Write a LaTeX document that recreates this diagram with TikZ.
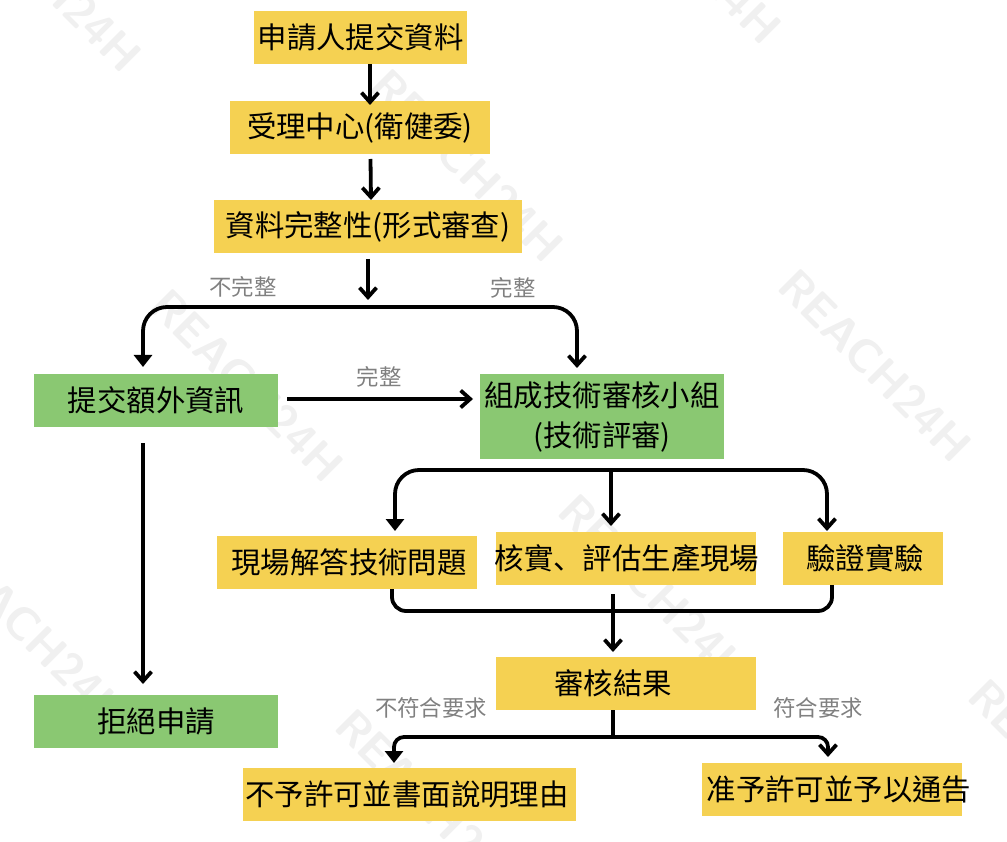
\documentclass[tikz,border=0pt]{standalone}
\usepackage{fontspec}
\setmainfont{Noto Sans CJK TC}
\newfontfamily\jpfont{Noto Sans CJK JP}
\usetikzlibrary{arrows.meta}
\definecolor{yel}{HTML}{F5D152}
\definecolor{grn}{HTML}{8AC872}
\definecolor{lab}{HTML}{808080}
\definecolor{wm}{HTML}{F0F0F0}
\tikzset{
  x=1pt,y=-1pt,
  boxy/.style={fill=yel,inner sep=0pt,outer sep=0pt,align=center,font=\fontsize{29.4}{40}\selectfont},
  boxg/.style={boxy,fill=grn},
  lbl/.style={text=lab,inner sep=0pt,font=\fontsize{22.4}{26}\selectfont},
  wmk/.style={text=wm,inner sep=0pt,rotate=-45,font=\fontfamily{lmss}\sffamily\bfseries\fontsize{46}{50}\selectfont},
  arr/.style={line width=3.8pt,-{Straight Barb[length=9.5pt,width=17pt,line width=3.8pt]}},
  arf/.style={line width=3.8pt,-{Triangle[length=12pt,width=18pt]}},
  lin/.style={line width=3.8pt}
}
\newcommand{\bx}[7]{\node[#1,minimum width=#5-#4,minimum height=#7-#6] (#2) at ({(#4+#5)/2},{(#6+#7)/2}) {#3};}
\newcommand{\tx}[2]{\makebox[0pt][c]{\hspace*{#1}\raisebox{-1pt}{#2}}}
\begin{document}
\begin{tikzpicture}
\useasboundingbox (0,0) rectangle (1007,842);
% watermarks
\node[wmk] (w1) at (45,-25) {REACH24H};
\node[wmk] (w2) at (467,165) {REACH24H};
\node[wmk] (w3) at (875,365) {REACH24H};
\node[wmk] (w4) at (247,385) {REACH24H};
\node[wmk] (w5) at (655,590) {REACH24H};
\node[wmk] (w6) at (33,633) {REACH24H};
\node[wmk] (w7) at (432,805) {REACH24H};
\node[wmk] (w8) at (685,-53) {REACH24H};
\node[wmk] (w9) at (1065,775) {REACH24H};
% boxes
\bx{boxy}{a}{\tx{0pt}{申請人提交資料}}{254}{467}{11}{64}
\bx{boxy}{b}{\tx{0pt}{受理中心(衛健委)}}{230}{490}{101}{154}
\bx{boxy}{c}{\tx{0pt}{資料完整性(形式審查)}}{214}{522}{200}{253}
\bx{boxg}{d}{\tx{0pt}{提交額外資訊}}{34}{278}{374}{427}
\bx{boxg}{e}{\tx{0pt}{組成技術審核小組}\\\tx{0pt}{(技術評審)}}{480}{724}{374}{459}
\bx{boxy}{f}{\tx{4pt}{現場解答技術問題}}{217}{477}{536}{589}
\bx{boxy}{g}{\tx{2pt}{核實{\jpfont 、}評估生產現場}}{496}{756}{532}{585}
\bx{boxy}{h}{\tx{4pt}{驗證實驗}}{783}{943}{532}{585}
\bx{boxy}{i}{\tx{-26pt}{審核結果}}{496}{756}{657}{710}
\bx{boxg}{j}{\tx{0pt}{拒絕申請}}{34}{278}{695}{748}
\bx{boxy}{k}{\tx{-5pt}{不予許可並書面說明理由}}{243}{576}{768}{821}
\bx{boxy}{l}{\tx{14pt}{准予許可並予以通告}}{702}{962}{763}{816}
% labels
\node[lbl] (t1) at (243,287) {不完整};
\node[lbl] (t2) at (513,288) {完整};
\node[lbl] (t3) at (379,377) {完整};
\node[lbl] (t4) at (431,708) {不符合要求};
\node[lbl] (t5) at (818,708) {符合要求};
% connectors
\draw[arr] ([xshift=9.5pt]a.south) -- ([xshift=10pt,yshift=-4pt]b.north);
\draw[arr] ([xshift=10.5pt,yshift=-5pt]b.south) -- ([xshift=3pt]c.north);
\coordinate (br1) at (368,307);
\draw[arr] ([yshift=-6pt]c.south) -- ([yshift=-47pt]c.south);
\draw[arf,rounded corners=24pt] (br1) -| ([xshift=-13pt,yshift=7pt]d.north);
\draw[arr,rounded corners=24pt] (br1) -| ([xshift=-25pt,yshift=6pt]e.north);
\draw[arr] ([xshift=9pt,yshift=1.5pt]d.east) -- ([xshift=-7pt,yshift=17.5pt]e.west);
\draw[arr] ([xshift=-13pt,yshift=-16pt]d.south) -- ([xshift=-13pt,yshift=11pt]j.north);
\coordinate (br2) at (611,470);
\draw[arf,rounded corners=24pt] (br2) -| ([xshift=178pt,yshift=5pt]f.north west);
\draw[arr,rounded corners=24pt] (br2) -| ([xshift=-36pt,yshift=1pt]h.north);
\draw[arr] (br2) -- ([xshift=-15pt,yshift=6pt]g.north);
\coordinate (br3) at (613,611);
\draw[lin,rounded corners=14pt] ([xshift=175pt]f.south west) |- (br3) -| ([xshift=49pt]h.south west);
\draw[arr] ([xshift=-13pt,yshift=-9pt]g.south) -- ([xshift=-13pt,yshift=5pt]i.north);
\coordinate (br4) at (613,737);
\draw[lin] (i.south -| br4) -- (br4);
\draw[arf,rounded corners=10pt] (br4) -| ([xshift=151pt,yshift=5pt]k.north west);
\draw[arr,rounded corners=10pt] (br4) -| ([xshift=126pt,yshift=6pt]l.north west);
\end{tikzpicture}
\end{document}
